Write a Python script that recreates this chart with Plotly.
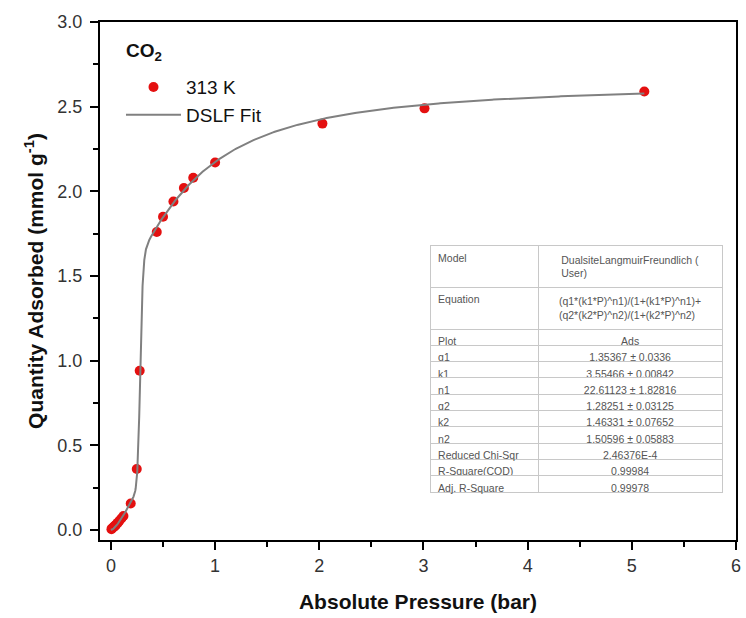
import numpy as np
import plotly.graph_objects as go

# ---- data ----
pressure = [0.005, 0.012, 0.02, 0.03, 0.04, 0.05, 0.065, 0.08, 0.10, 0.12,
            0.19, 0.248, 0.276, 0.44, 0.50, 0.60, 0.70, 0.79, 1.00, 2.03, 3.01, 5.12]
adsorbed = [0.005, 0.010, 0.015, 0.020, 0.026, 0.032, 0.042, 0.053, 0.068, 0.083,
            0.157, 0.36, 0.94, 1.76, 1.85, 1.94, 2.02, 2.08, 2.17, 2.40, 2.49, 2.59]

# DSLF fit parameters (from the table in the chart)
q1, k1, n1 = 1.35367, 3.55466, 22.61123
q2, k2, n2 = 1.28251, 1.46331, 1.50596

table_labels = ["Equation", "Plot", "q1", "k1", "n1", "q2", "k2", "n2",
                "Reduced Chi-Sqr", "R-Square(COD)", "Adj. R-Square"]
table_values = ["(q1*(k1*P)^n1)/(1+(k1*P)^n1)+<br>(q2*(k2*P)^n2)/(1+(k2*P)^n2)",
                "Ads", "1.35367 ± 0.0336", "3.55466 ± 0.00842", "22.61123 ± 1.82816",
                "1.28251 ± 0.03125", "1.46331 ± 0.07652", "1.50596 ± 0.05883",
                "2.46376E-4", "0.99984", "0.99978"]

x_ticks = [0, 1, 2, 3, 4, 5, 6]
y_ticks = [0.0, 0.5, 1.0, 1.5, 2.0, 2.5, 3.0]

# fit curve from the stated model
P = np.unique(np.concatenate([np.linspace(0, 0.25, 60), np.linspace(0.25, 0.32, 200),
                              np.linspace(0.32, 5.12, 300)]))
fit = q1 * (k1 * P) ** n1 / (1 + (k1 * P) ** n1) + q2 * (k2 * P) ** n2 / (1 + (k2 * P) ** n2)

fig = go.Figure()
fig.add_trace(go.Scatter(x=pressure, y=adsorbed, mode="markers", name="313 K",
                         marker=dict(color="#e41010", size=10, line=dict(width=0))))
fig.add_trace(go.Scatter(x=P, y=fit, mode="lines", name="DSLF Fit",
                         line=dict(color="#808080", width=2)))

tfont = dict(family="Liberation Sans, Arial", size=10.5, color="#555")
fig.add_trace(go.Table(
    domain=dict(x=[0.519, 0.979], y=[0.04, 0.568]),
    columnwidth=[108, 184],
    header=dict(values=["Model", "DualsiteLangmuirFreundlich (<br>User)"],
                align=["left", "center"], height=33,
                fill_color="white", line_color="#c8c8c8", font=tfont),
    cells=dict(values=[table_labels, table_values],
               align=["left", "center"], height=16.3,
               fill_color="white", line_color="#c8c8c8", font=tfont),
))

fig.add_annotation(text="<b>CO<sub>2</sub></b>", xref="paper", yref="paper",
                   x=0.038, y=(540 - 52) / 518, xanchor="left", yanchor="middle",
                   showarrow=False, font=dict(size=19, color="#111"))

fig.update_layout(
    width=746, height=618,
    margin=dict(l=100, r=5, t=22, b=78),
    paper_bgcolor="white", plot_bgcolor="white",
    font=dict(family="Liberation Sans, Arial", color="#111"),
    showlegend=True,
    legend=dict(x=0.033, y=0.911, xanchor="left", yanchor="top",
                bgcolor="rgba(0,0,0,0)", itemwidth=55,
                font=dict(size=19, color="#111")),
    xaxis=dict(range=[-0.105, 6.0], tickvals=x_ticks, ticktext=[str(v) for v in x_ticks],
               showgrid=False, zeroline=False, showline=True, linecolor="black", linewidth=2,
               mirror=True, ticks="outside", ticklen=8, tickwidth=2, tickcolor="black",
               minor=dict(dtick=0.5, ticks="outside", ticklen=5, tickwidth=2, tickcolor="black"),
               tickfont=dict(size=18, color="#333"),
               title=dict(text="<b>Absolute Pressure (bar)</b>", font=dict(size=21, color="#111"),
                          standoff=20)),
    yaxis=dict(range=[-0.059, 3.0], tickvals=y_ticks, ticktext=[f"{v:.1f}" for v in y_ticks],
               showgrid=False, zeroline=False, showline=True, linecolor="black", linewidth=2,
               mirror=True, ticks="outside", ticklen=8, tickwidth=2, tickcolor="black",
               minor=dict(dtick=0.25, ticks="outside", ticklen=5, tickwidth=2, tickcolor="black"),
               tickfont=dict(size=18, color="#333"), ticklabelstandoff=4,
               title=dict(text="<b>Quantity Adsorbed (mmol g<sup>-1</sup>)</b>",
                          font=dict(size=21, color="#111"), standoff=8)),
)

fig.write_html("out.html", config={"displayModeBar": False},
               post_script="document.body.style.margin='0px';")
